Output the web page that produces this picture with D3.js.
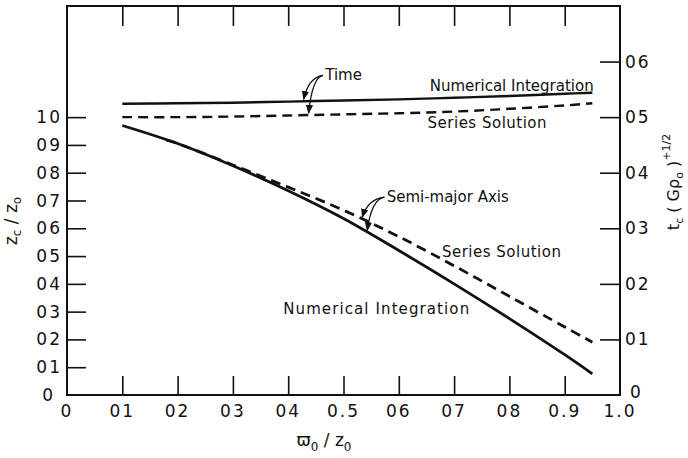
<!DOCTYPE html>
<html>
<head>
<meta charset="utf-8">
<script src="https://cdn.jsdelivr.net/npm/d3@7"></script>
<style>
  body { margin: 0; background: #fff; }
  svg { display: block; }
  text { font-family: "DejaVu Sans", sans-serif; fill: #111; }
</style>
</head>
<body>
<svg class="chart"></svg>
<script>
// tick values and labels as printed
const xTicks = [0, 0.1, 0.2, 0.3, 0.4, 0.5, 0.6, 0.7, 0.8, 0.9, 1.0];
const xTickLabels = ["0", "01", "02", "03", "04", "0.5", "06", "07", "08", "0.9", "1.0"];
const leftTicks = [0, 0.1, 0.2, 0.3, 0.4, 0.5, 0.6, 0.7, 0.8, 0.9, 1.0];
const leftTickLabels = ["0", "01", "02", "03", "04", "05", "06", "07", "08", "09", "10"];
const rightTicks = [0, 0.1, 0.2, 0.3, 0.4, 0.5, 0.6];
const rightTickLabels = ["0", "01", "02", "03", "04", "05", "06"];

// semi-major axis z_c/z_o (left axis)
const ratio = [0.1, 0.2, 0.3, 0.4, 0.5, 0.6, 0.7, 0.8, 0.9, 0.95];
const axisNumerical = [0.970, 0.905, 0.825, 0.735, 0.635, 0.520, 0.400, 0.275, 0.145, 0.076];
const seriesRatio = [0.18, 0.2, 0.3, 0.4, 0.5, 0.6, 0.7, 0.8, 0.9, 0.95];
const axisSeries = [0.917, 0.905, 0.828, 0.748, 0.665, 0.570, 0.465, 0.355, 0.245, 0.190];

// collapse time t_c (G rho_o)^(1/2) (right axis)
const timeNumerical = [0.524, 0.525, 0.526, 0.528, 0.530, 0.532, 0.535, 0.538, 0.542, 0.544];
const timeSeries = [0.500, 0.500, 0.501, 0.503, 0.505, 0.507, 0.510, 0.515, 0.521, 0.525];

const W = 688, H = 458;
const frame = { left: 67, right: 620, top: 6, bottom: 395 };

const svg = d3.select('.chart').attr('width', W).attr('height', H);

const x = d3.scaleLinear().domain([0, 1]).range([frame.left, frame.right]);
const yL = d3.scaleLinear().domain([0, 1.4]).range([frame.bottom, frame.top]);
const yR = d3.scaleLinear().domain([0, 0.7]).range([frame.bottom, frame.top]);

const ink = '#111';

// frame
svg.append('rect')
  .attr('x', frame.left).attr('y', frame.top)
  .attr('width', frame.right - frame.left)
  .attr('height', frame.bottom - frame.top)
  .attr('fill', 'none').attr('stroke', ink).attr('stroke-width', 2);

// inward ticks (labels drawn separately below)
const tickLen = 19;
svg.append('g').attr('transform', `translate(0,${frame.bottom})`)
  .call(d3.axisTop(x).tickValues(xTicks.slice(1, -1)).tickSize(tickLen).tickFormat(''))
  .call(g => g.select('.domain').remove());
svg.append('g').attr('transform', `translate(0,${frame.top})`)
  .call(d3.axisBottom(x).tickValues(xTicks.slice(1, -1)).tickSize(tickLen + 1).tickFormat(''))
  .call(g => g.select('.domain').remove());
svg.append('g').attr('transform', `translate(${frame.left},0)`)
  .call(d3.axisRight(yL).tickValues(leftTicks.slice(1)).tickSize(tickLen).tickFormat(''))
  .call(g => g.select('.domain').remove());
svg.append('g').attr('transform', `translate(${frame.right},0)`)
  .call(d3.axisLeft(yR).tickValues(rightTicks.slice(1)).tickSize(tickLen + 1).tickFormat(''))
  .call(g => g.select('.domain').remove());
svg.selectAll('.tick line').attr('stroke', ink).attr('stroke-width', 1.6);

// tick labels
const tickFont = 17;
svg.append('g').selectAll('text').data(xTicks).join('text')
  .attr('x', d => x(d)).attr('y', frame.bottom + 22)
  .attr('text-anchor', 'middle')
  .attr('font-size', tickFont).attr('letter-spacing', 2)
  .text((d, i) => xTickLabels[i]);
svg.append('g').selectAll('text').data(leftTicks).join('text')
  .attr('x', d => d === 0 ? frame.left - 12 : frame.left - 5)
  .attr('y', d => yL(d) + 6)
  .attr('text-anchor', 'end')
  .attr('font-size', tickFont).attr('letter-spacing', 2)
  .text((d, i) => leftTickLabels[i]);
svg.append('g').selectAll('text').data(rightTicks).join('text')
  .attr('x', d => d === 0 ? frame.right + 10 : frame.right + 5)
  .attr('y', d => d === 0 ? yR(d) + 3 : yR(d) + 6)
  .attr('font-size', tickFont).attr('letter-spacing', 2)
  .text((d, i) => rightTickLabels[i]);

// axis titles
const xTitle = svg.append('text')
  .attr('x', 324).attr('y', 446)
  .attr('text-anchor', 'middle').attr('font-size', 17);
xTitle.append('tspan').text('ϖ');
xTitle.append('tspan').attr('dy', 5).attr('font-size', 12).text('0');
xTitle.append('tspan').attr('dy', -5).text(' / z');
xTitle.append('tspan').attr('dy', 5).attr('font-size', 12).text('0');

const yTitle = svg.append('text')
  .attr('transform', 'translate(17,221) rotate(-90)')
  .attr('text-anchor', 'middle').attr('font-size', 17);
yTitle.append('tspan').text('z');
yTitle.append('tspan').attr('dy', 4).attr('font-size', 12).text('c');
yTitle.append('tspan').attr('dy', -4).text(' / z');
yTitle.append('tspan').attr('dy', 4).attr('font-size', 12).text('o');

const rTitle = svg.append('text')
  .attr('transform', 'translate(679,182) rotate(-90)')
  .attr('text-anchor', 'middle').attr('font-size', 16);
rTitle.append('tspan').text('t');
rTitle.append('tspan').attr('dy', 4).attr('font-size', 11).text('c');
rTitle.append('tspan').attr('dy', -4).text(' ( Gρ');
rTitle.append('tspan').attr('dy', 4).attr('font-size', 11).text('o');
rTitle.append('tspan').attr('dy', -4).text(' )');
rTitle.append('tspan').attr('dy', -9).attr('font-size', 11).text('+1/2');

// curves
function drawCurve(xs, ys, yScale, dashed, width) {
  const line = d3.line()
    .x((d, i) => x(xs[i]))
    .y(d => yScale(d))
    .curve(d3.curveCatmullRom.alpha(0.5));
  svg.append('path')
    .datum(ys)
    .attr('d', line)
    .attr('fill', 'none')
    .attr('stroke', ink)
    .attr('stroke-width', width)
    .attr('stroke-dasharray', dashed ? '10 6' : null);
}
drawCurve(ratio, timeNumerical, yR, false, 2.4);
drawCurve(ratio, timeSeries, yR, true, 2.4);
drawCurve(ratio, axisNumerical, yL, false, 2.8);
drawCurve(seriesRatio, axisSeries, yL, true, 2.8);

// text labels on the plot (data coords, left scale)
const labels = [
  { text: "Time", x: 0.467, y: 1.135, spacing: 0 },
  { text: "Numerical Integration", x: 0.656, y: 1.095, spacing: 0 },
  { text: "Series Solution", x: 0.652, y: 0.962, spacing: 0.5 },
  { text: "Semi-major Axis", x: 0.578, y: 0.695, spacing: 0 },
  { text: "Series Solution", x: 0.678, y: 0.497, spacing: 0.5 },
  { text: "Numerical Integration", x: 0.391, y: 0.292, spacing: 1.1 },
];
svg.append('g').selectAll('text').data(labels).join('text')
  .attr('x', d => x(d.x)).attr('y', d => yL(d.y))
  .attr('font-size', 15).attr('letter-spacing', d => d.spacing)
  .text(d => d.text);

// pointer arrows from the labels to the curves
svg.append('defs').append('marker')
  .attr('id', 'head').attr('viewBox', '0 0 10 10')
  .attr('refX', 9).attr('refY', 5)
  .attr('markerWidth', 7).attr('markerHeight', 7)
  .attr('orient', 'auto')
  .append('path').attr('d', 'M0,1L10,5L0,9z').attr('fill', ink);

function valueAt(xs, ys, v) {
  return d3.scaleLinear().domain(xs).range(ys)(v);
}
const pointers = [
  { from: [0.463, 1.15], xs: ratio, ys: timeNumerical, scale: yR, at: 0.428 },
  { from: [0.463, 1.15], xs: ratio, ys: timeSeries, scale: yR, at: 0.437 },
  { from: [0.574, 0.712], xs: seriesRatio, ys: axisSeries, scale: yL, at: 0.534 },
  { from: [0.574, 0.712], xs: ratio, ys: axisNumerical, scale: yL, at: 0.543 },
];
svg.append('g').selectAll('path').data(pointers).join('path')
  .attr('d', d => {
    const x0 = x(d.from[0]), y0 = yL(d.from[1]);
    const x1 = x(d.at), y1 = d.scale(valueAt(d.xs, d.ys, d.at)) - 2;
    const cx = x0 - (x0 - x1) * 0.75, cy = y0 + 2;
    return `M${x0},${y0}Q${cx},${cy} ${x1},${y1}`;
  })
  .attr('fill', 'none').attr('stroke', ink).attr('stroke-width', 1.3)
  .attr('marker-end', 'url(#head)');
</script>
</body>
</html>
